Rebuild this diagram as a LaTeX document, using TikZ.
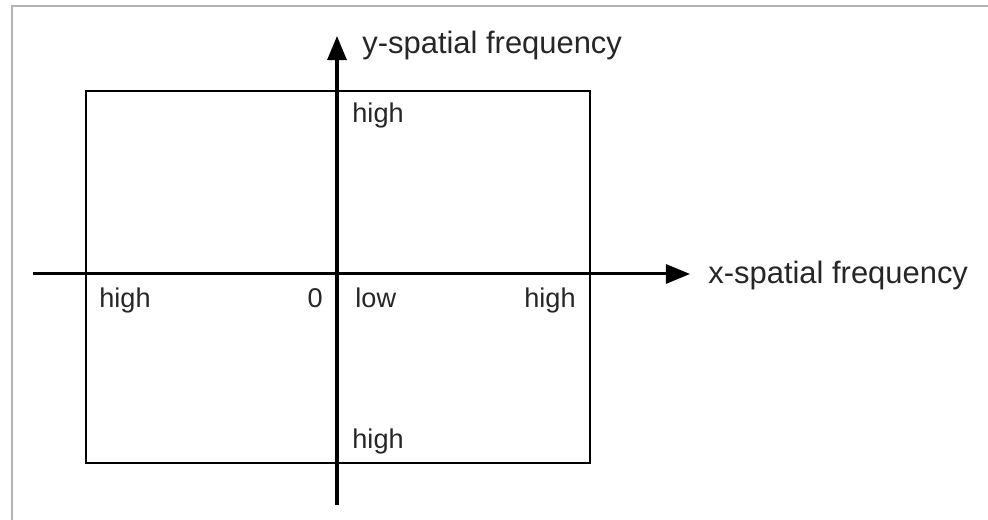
\documentclass[tikz,border=0pt]{standalone}
\usepackage{fontspec}
\setmainfont{Liberation Sans}
\usetikzlibrary{arrows.meta}

\begin{document}
\begin{tikzpicture}[x=1.75cm, y=1.75cm,
    axis/.style={line width=1.5pt, -{Triangle[length=12pt, width=9.5pt]}},
    lab/.style={inner sep=0pt, text=black!85, font=\fontsize{13.5}{16}\selectfont},
    axlab/.style={inner sep=0pt, text=black!85, font=\fontsize{15.4}{18}\selectfont}]
  \useasboundingbox (0,0) rectangle (9.88,5.2);
  \draw[black!30, line width=1pt] (0.12,0) -- (0.12,5.14) -- (9.88,5.14);
  \draw[line width=1pt] (0.86,0.57) rectangle (5.90,4.29);
  \coordinate (xl) at (0.33,2.46); \coordinate (xr) at (6.90,2.46);
  \coordinate (yb) at (3.37,0.15); \coordinate (yt) at (3.37,4.84);
  \draw[axis] (xl) -- (xr);
  \draw[axis] (yb) -- (yt);
  \node[axlab, anchor=base west] (ylab) at (3.62,4.66) {y-spatial frequency};
  \node[axlab, anchor=base west] (xlab) at (7.08,2.36) {x-spatial frequency};
  \node[lab, anchor=base west] (hightop) at (3.52,3.97) {high};
  \node[lab, anchor=base west] (highbot) at (3.52,0.71) {high};
  \node[lab, anchor=base west] (highleft) at (0.99,2.12) {high};
  \node[lab, anchor=base east] (zero) at (3.23,2.12) {0};
  \node[lab, anchor=base west] (low) at (3.55,2.12) {low};
  \node[lab, anchor=base east] (highright) at (5.76,2.12) {high};
\end{tikzpicture}
\end{document}
